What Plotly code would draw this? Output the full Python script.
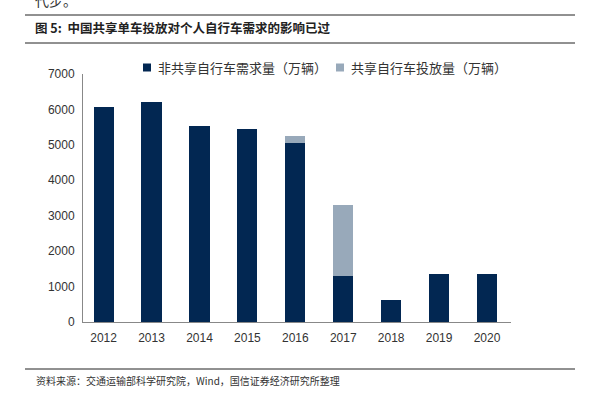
import plotly.graph_objects as go

years = ["2012", "2013", "2014", "2015", "2016", "2017", "2018", "2019", "2020"]
non_shared = [6070, 6210, 5530, 5450, 5040, 1300, 630, 1350, 1350]
shared = [0, 0, 0, 0, 215, 2000, 0, 0, 0]
name_non_shared = "非共享自行车需求量（万辆）"
name_shared = "共享自行车投放量（万辆）"
y_ticks = [0, 1000, 2000, 3000, 4000, 5000, 6000, 7000]

L, R, T, B = 83, 82, 74, 74
W, H = 593, 396
PW, PH = W - L - R, H - T - B

def xp(px):
    return (px - L) / PW

def yp(py):
    return (H - B - py) / PH

cjk = "Noto Sans CJK SC"
c_dark, c_light = "#022752", "#98A9BA"
fig = go.Figure()
fig.add_trace(go.Bar(x=years, y=non_shared, name=name_non_shared,
                     marker=dict(color=c_dark, line=dict(width=0)), width=0.42))
fig.add_trace(go.Bar(x=years, y=shared, name=name_shared,
                     marker=dict(color=c_light, line=dict(width=0)), width=0.42))

def legend_square(x0, color):
    return dict(type="rect", xref="paper", yref="paper", x0=xp(x0), x1=xp(x0 + 8),
                y0=yp(71.5), y1=yp(63.5), fillcolor=color, line=dict(width=0))

def rule(y):
    return dict(type="line", xref="paper", yref="paper", x0=xp(25), x1=xp(575), y0=yp(y), y1=yp(y),
                line=dict(color="#222222", width=1))

fig.update_layout(
    barmode="stack",
    width=W, height=H,
    margin=dict(l=L, r=R, t=T, b=B),
    paper_bgcolor="white", plot_bgcolor="white",
    font=dict(family="Liberation Sans, Arial", size=12, color="#333333"),
    showlegend=False,
    xaxis=dict(type="category", range=[-0.43, 8.5], showline=True, linecolor="#888888",
               linewidth=1, ticks="", showgrid=False, tickfont=dict(size=12, color="#333333"),
               ticklabelstandoff=5),
    yaxis=dict(range=[0, 7000], tickvals=y_ticks, showline=True, linecolor="#888888",
               linewidth=1, showgrid=False, zeroline=False, ticks="",
               tickfont=dict(size=12, color="#333333"), ticklabelstandoff=5),
    shapes=[rule(15), rule(43), rule(369),
            legend_square(143, c_dark), legend_square(336, c_light)],
    annotations=[
        dict(text=name_non_shared, xref="paper", yref="paper", x=xp(156), y=yp(67.5),
             xanchor="left", yanchor="middle", showarrow=False,
             font=dict(family=cjk, size=13, color="#333333")),
        dict(text=name_shared, xref="paper", yref="paper", x=xp(349), y=yp(67.5),
             xanchor="left", yanchor="middle", showarrow=False,
             font=dict(family=cjk, size=13, color="#333333")),
        dict(text="代步。", xref="paper", yref="paper", x=xp(33), y=yp(0), xanchor="left",
             yanchor="middle", showarrow=False, font=dict(family=cjk, size=14, color="#333333")),
        dict(text="<b>图 5:  中国共享单车投放对个人自行车需求的影响已过</b>", xref="paper", yref="paper",
             x=xp(33), y=yp(28), xanchor="left", yanchor="middle", showarrow=False,
             font=dict(family=cjk, size=12.5, color="#222222")),
        dict(text="资料来源：交通运输部科学研究院，Wind，国信证券经济研究所整理", xref="paper", yref="paper",
             x=xp(34), y=yp(380), xanchor="left", yanchor="middle", showarrow=False,
             font=dict(family=cjk, size=10, color="#333333")),
    ],
)

fig.write_html("out.html", config={"displayModeBar": False},
               post_script="document.body.style.margin='0px';document.body.style.padding='0px';")
